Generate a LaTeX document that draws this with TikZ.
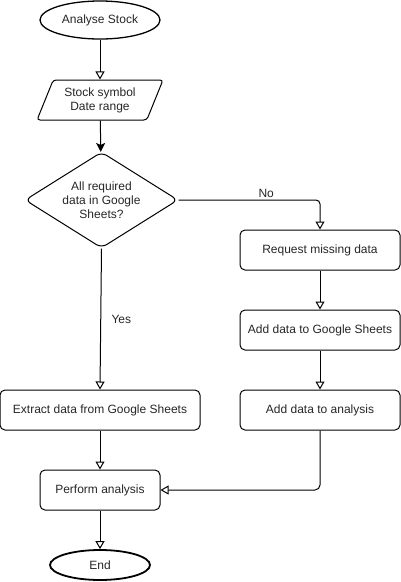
\documentclass[tikz,border=0pt]{standalone}
\usepackage{fontspec}
\setmainfont{Liberation Sans}
\usetikzlibrary{shapes.geometric,arrows.meta}
\begin{document}
\begin{tikzpicture}[x=1pt,y=-1pt,
  every node/.style={font=\fontsize{12}{14}\selectfont, text=black!85},
  box/.style={draw, rounded corners=5pt, minimum height=40pt, line width=1pt},
  term/.style={draw, ellipse, inner sep=0pt},
  flow/.style={draw, line width=1pt, -{Triangle[open,length=8pt,width=9pt]}}]
\useasboundingbox (0,0) rectangle (401,582);
\node[term, line width=1.3pt, minimum width=120pt, minimum height=38pt] (start) at (100,20) {Analyse Stock};
\node[draw, trapezium, trapezium left angle=63, trapezium right angle=117, trapezium stretches body,
  minimum width=126pt, minimum height=40pt, rounded corners=3pt, line width=1pt, align=center] (input) at (100,100) {Stock symbol\\Date range};
\node[draw, diamond, aspect=1.6, rounded corners=6pt, minimum width=153pt, minimum height=96pt, inner sep=0pt,
  line width=1pt, align=center] (query) at (101.5,200) {All required\\data in Google\\Sheets?};
\node[box, minimum width=160pt] (request) at (320,250) {Request missing data};
\node[box, minimum width=160pt] (addsheet) at (320,330) {Add data to Google Sheets};
\node[box, minimum width=160pt] (addana) at (320,410) {Add data to analysis};
\node[box, minimum width=200pt] (extract) at (100,410) {Extract data from Google Sheets};
\node[box, minimum width=120pt] (perform) at (100,490) {Perform analysis};
\node[term, line width=1.8pt, minimum width=100pt, minimum height=30pt] (end) at (100,565) {End};

\path[flow] (start) -- (input);
\path[draw, line width=1pt, -{Stealth[length=9pt,width=9pt,inset=2pt]}] (input) -- (query);
\path[flow, rounded corners=4pt] (query.east) -| node[pos=0.31, above, inner sep=2pt] {No} (request.north);
\path[flow] (query.south) -- node[right, xshift=7pt] {Yes} (extract.north);
\path[flow] (request) -- (addsheet);
\path[flow] (addsheet) -- (addana);
\path[flow] (extract) -- (perform);
\path[flow, rounded corners=5pt] (addana.south) |- (perform.east);
\path[flow] (perform) -- (end);
\end{tikzpicture}
\end{document}
